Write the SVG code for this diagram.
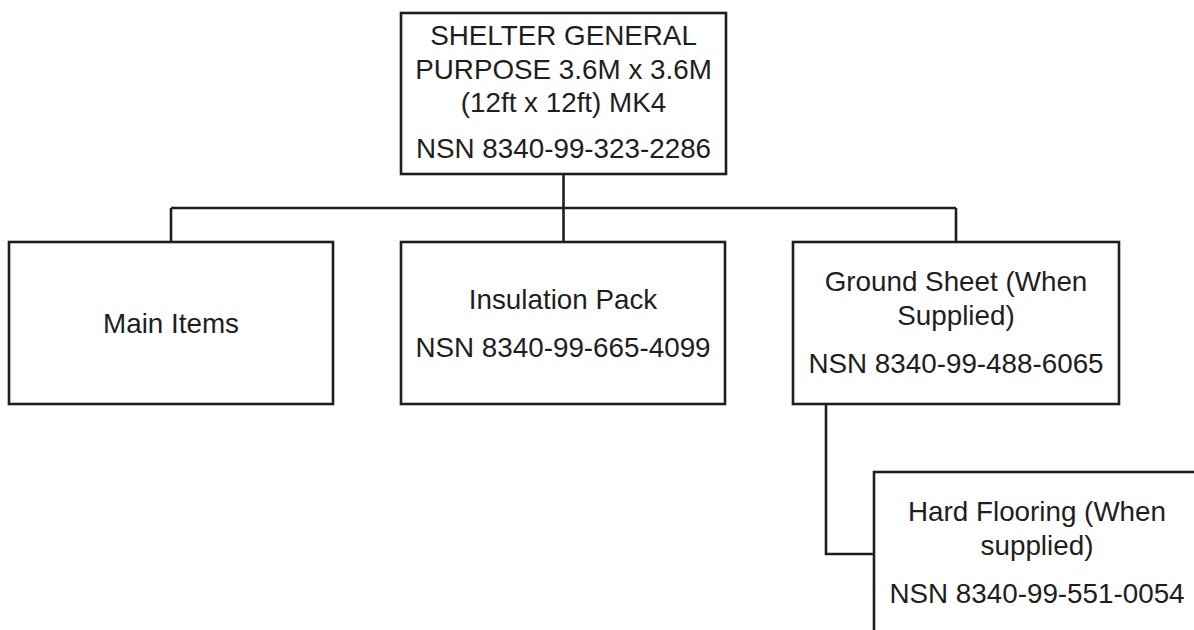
<svg xmlns="http://www.w3.org/2000/svg" width="1194" height="630" viewBox="0 0 1194 630">
<style>
.box{fill:#fff;stroke:#1e1e1e;stroke-width:2.6}
.con{fill:none;stroke:#1e1e1e;stroke-width:2.6}
text{font-family:"Liberation Sans","Open Sans",sans-serif;font-size:27.8px;fill:#1e1e1e;text-anchor:middle}
</style>
<rect width="1194" height="630" fill="#fff"/>
<g id="connectors">
<path class="con" d="M563.5 174V208M171 208H956M171 208V242M563.5 208V242M956 208V242"/>
<path class="con" d="M826 404V554H874"/>
</g>
<g id="node-shelter">
<rect class="box" x="401" y="13" width="325" height="161"/>
<text x="563.5" y="45">SHELTER GENERAL</text>
<text x="563.5" y="79">PURPOSE 3.6M x 3.6M</text>
<text x="563.5" y="112">(12ft x 12ft) MK4</text>
<text x="563.5" y="158">NSN 8340-99-323-2286</text>
</g>
<g id="node-main">
<rect class="box" x="9" y="242" width="324" height="162"/>
<text x="171" y="333">Main Items</text>
</g>
<g id="node-insulation">
<rect class="box" x="401" y="242" width="324" height="162"/>
<text x="563" y="309">Insulation Pack</text>
<text x="563" y="357">NSN 8340-99-665-4099</text>
</g>
<g id="node-groundsheet">
<rect class="box" x="793" y="242" width="326" height="162"/>
<text x="956" y="291">Ground Sheet (When</text>
<text x="956" y="325">Supplied)</text>
<text x="956" y="373">NSN 8340-99-488-6065</text>
</g>
<g id="node-hardflooring">
<rect class="box" x="874" y="472" width="326" height="170"/>
<text x="1037" y="521">Hard Flooring (When</text>
<text x="1037" y="555">supplied)</text>
<text x="1037" y="603">NSN 8340-99-551-0054</text>
</g>
</svg>
